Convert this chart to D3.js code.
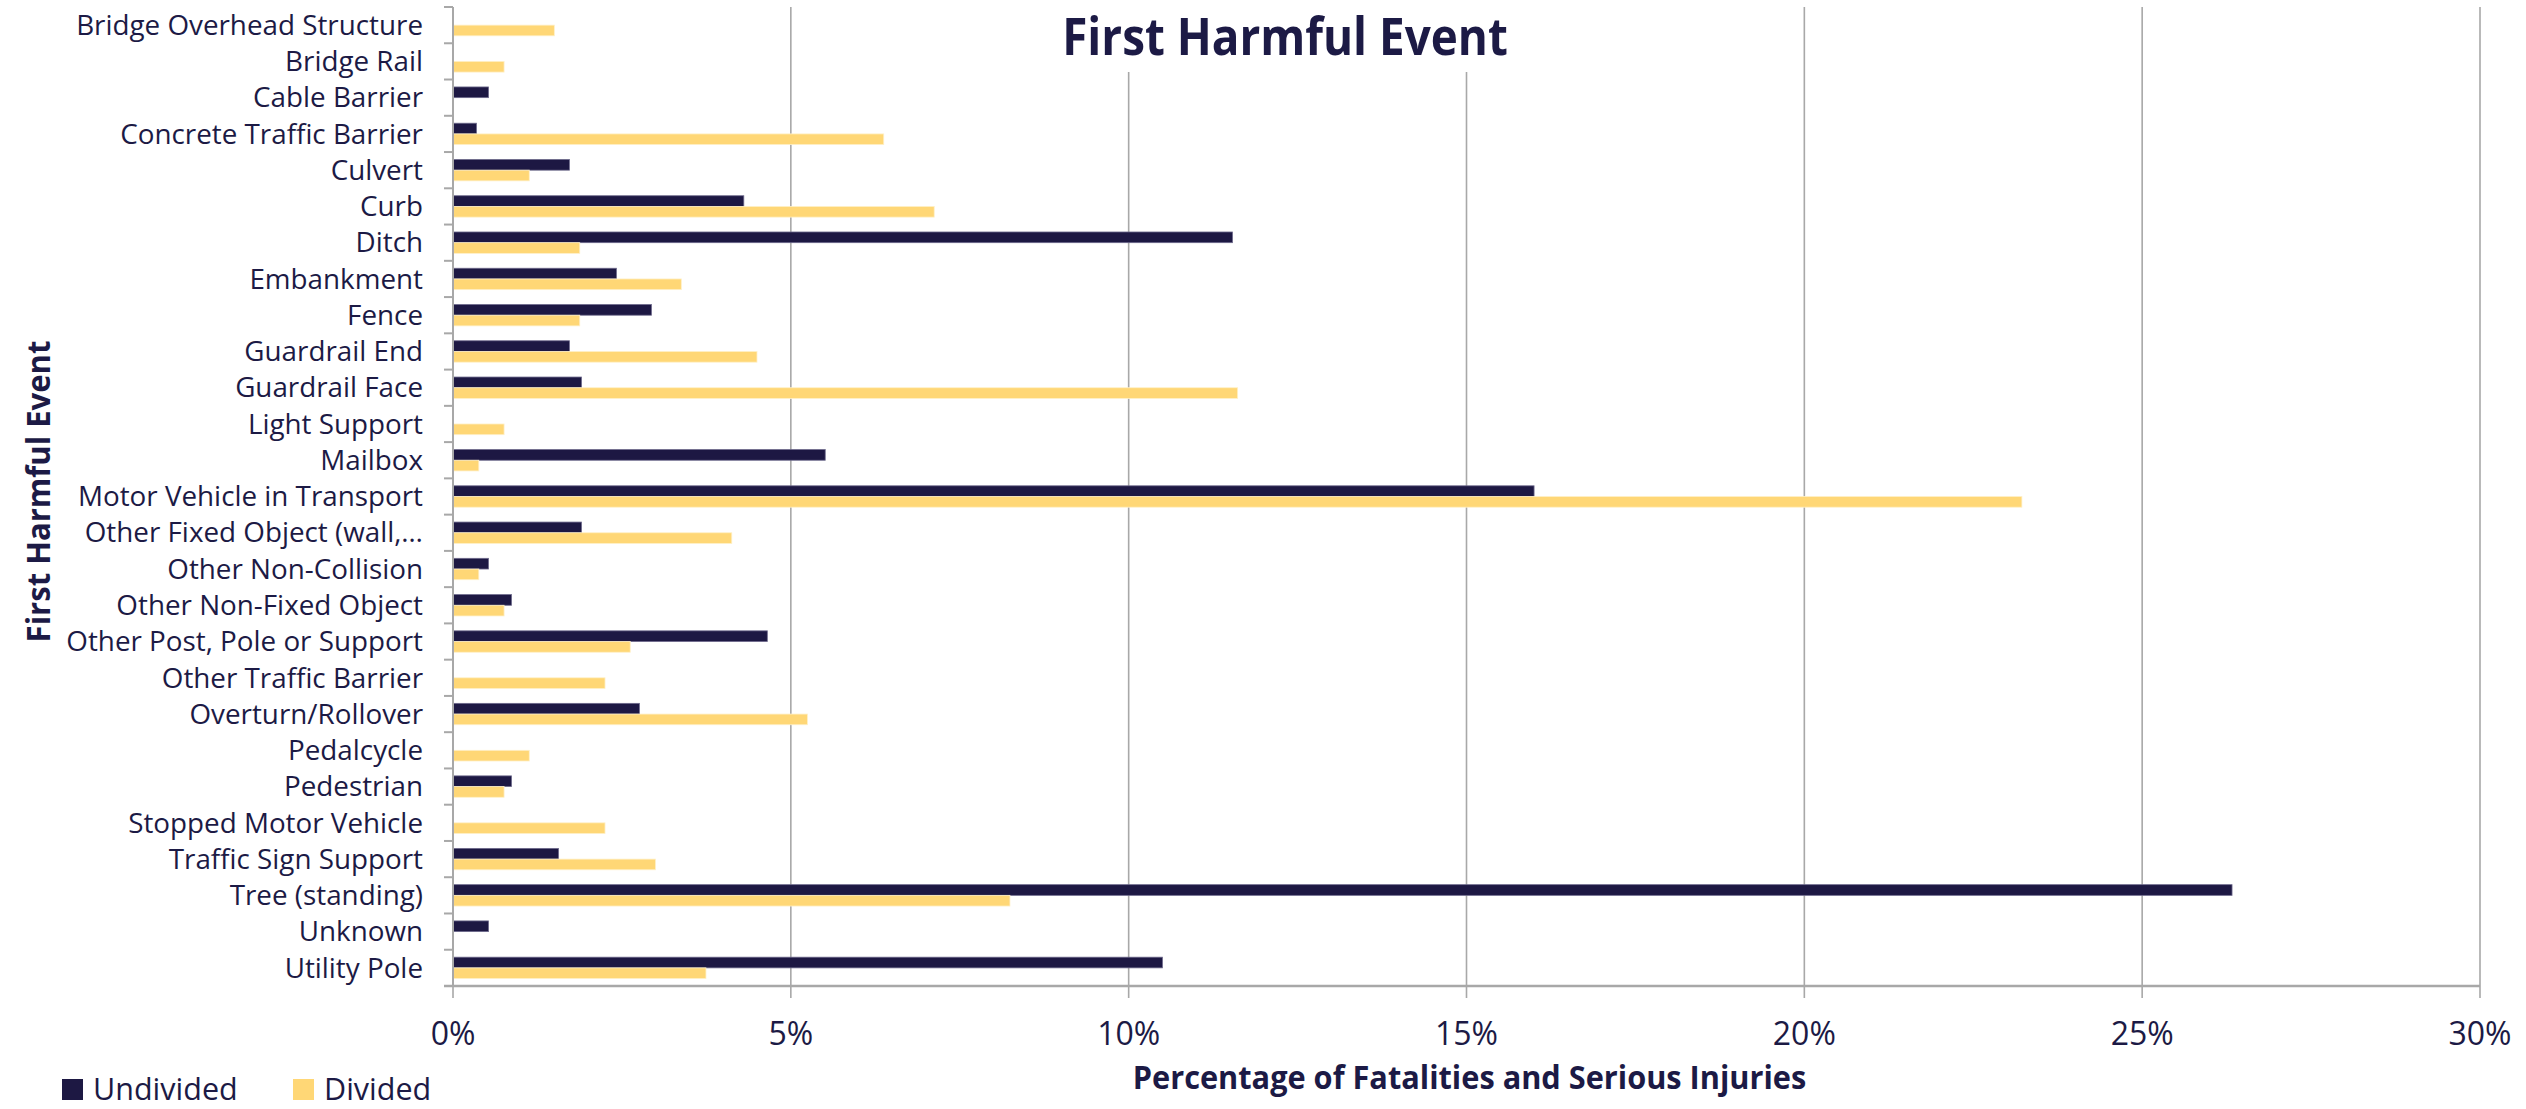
<!DOCTYPE html>
<html>
<head>
<meta charset="utf-8">
<script src="https://cdn.jsdelivr.net/npm/d3@7"></script>
<style>
  html, body { margin: 0; padding: 0; background: #ffffff; }
  svg { display: block; }
  text { font-family: "Open Sans", sans-serif; fill: #1c1a45; }
</style>
</head>
<body>
<svg id="chart" width="2526" height="1109"></svg>
<script>
// ---- Data ----
const categories = [
  "Bridge Overhead Structure", "Bridge Rail", "Cable Barrier", "Concrete Traffic Barrier",
  "Culvert", "Curb", "Ditch", "Embankment", "Fence", "Guardrail End", "Guardrail Face",
  "Light Support", "Mailbox", "Motor Vehicle in Transport", "Other Fixed Object (wall,\u2026",
  "Other Non-Collision", "Other Non-Fixed Object", "Other Post, Pole or Support",
  "Other Traffic Barrier", "Overturn/Rollover", "Pedalcycle", "Pedestrian",
  "Stopped Motor Vehicle", "Traffic Sign Support", "Tree (standing)", "Unknown", "Utility Pole"
];
const undivided = [
  0, 0, 0.526, 0.348, 1.723, 4.304, 11.537, 2.419, 2.937, 1.723, 1.902,
  0, 5.509, 16.00, 1.902, 0.526, 0.866, 4.652, 0, 2.759, 0, 0.866,
  0, 1.562, 26.33, 0.526, 10.50
];
const divided = [
  1.50, 0.756, 0, 6.375, 1.129, 7.122, 1.876, 3.379, 1.876, 4.499, 11.613,
  0.756, 0.382, 23.22, 4.126, 0.382, 0.756, 2.623, 2.250, 5.246, 1.129, 0.756,
  2.250, 2.997, 8.243, 0, 3.744
];
const seriesNames = ["Undivided", "Divided"];
const seriesColors = ["#1d1843", "#ffd776"];
const xTicks = [0, 5, 10, 15, 20, 25, 30];
const tickLabels = ["0%", "5%", "10%", "15%", "20%", "25%", "30%"];
const chartTitle = "First Harmful Event";
const xTitle = "Percentage of Fatalities and Serious Injuries";
const yTitle = "First Harmful Event";

// ---- Layout ----
const svg = d3.select("#chart");
const plot = { left: 453, right: 2480, top: 7, bottom: 986 };
const gridColor = "#a8a8a8";

const x = d3.scaleLinear().domain([0, 30]).range([plot.left, plot.right]);
const y = d3.scaleBand().domain(categories).range([plot.top, plot.bottom])
  .paddingInner(0.41).paddingOuter(0.205);
const ySub = d3.scaleBand().domain(seriesNames).range([0, y.bandwidth()]);

const rows = categories.map((c, i) => ({ cat: c, values: [undivided[i], divided[i]] }));

// gridlines (vertical), extending below axis as ticks
svg.append("g").selectAll("line").data(xTicks).join("line")
  .attr("x1", d => x(d)).attr("x2", d => x(d))
  .attr("y1", plot.top).attr("y2", plot.bottom + 12)
  .attr("stroke", gridColor).attr("stroke-width", 1.6);

// bars
const groups = svg.append("g").selectAll("g").data(rows).join("g")
  .attr("transform", d => `translate(0,${y(d.cat)})`);
groups.selectAll("rect").data(d => d.values.map((v, j) => ({ v, j }))).join("rect")
  .attr("x", x(0))
  .attr("y", d => ySub(seriesNames[d.j]))
  .attr("width", d => Math.max(0, x(d.v) - x(0)))
  .attr("height", ySub.bandwidth())
  .attr("fill", d => seriesColors[d.j])
  .attr("stroke", d => d.v > 0 ? (d.j === 0 ? "#6e6a8c" : "#fff0c8") : "none")
  .attr("stroke-width", 0.8);

// title with white background (hides gridlines beneath)
const titleG = svg.append("g").attr("transform", "translate(1285,55) scale(0.89,1)");
const titleBg = titleG.append("rect").attr("fill", "#ffffff");
const titleT = titleG.append("text").text(chartTitle)
  .attr("text-anchor", "middle").attr("font-weight", 700).attr("font-size", 51.5);
const tb = titleT.node().getBBox();
titleBg.attr("x", tb.x - 22).attr("width", tb.width + 44).attr("y", -55).attr("height", 72);

// y axis line + ticks at category boundaries
const yAxisG = svg.append("g");
yAxisG.append("line")
  .attr("x1", plot.left).attr("x2", plot.left)
  .attr("y1", plot.top).attr("y2", plot.bottom)
  .attr("stroke", gridColor).attr("stroke-width", 2);
const boundaries = categories.map(c => y(c) - y.step() * y.paddingInner() / 2).concat([plot.bottom]);
yAxisG.selectAll("line.tick").data(boundaries).join("line").attr("class", "tick")
  .attr("x1", plot.left - 9).attr("x2", plot.left)
  .attr("y1", d => d).attr("y2", d => d)
  .attr("stroke", gridColor).attr("stroke-width", 2);

// x axis line
svg.append("line")
  .attr("x1", plot.left - 9).attr("x2", plot.right)
  .attr("y1", plot.bottom).attr("y2", plot.bottom)
  .attr("stroke", gridColor).attr("stroke-width", 2.5);

// category labels
svg.append("g").selectAll("text").data(categories).join("text")
  .attr("x", 423)
  .attr("y", d => y(d) + y.bandwidth() / 2)
  .attr("dy", "0.35em")
  .attr("text-anchor", "end")
  .attr("font-size", 27.8)
  .text(d => d);

// x tick labels
svg.append("g").selectAll("text").data(xTicks).join("text")
  .attr("x", d => x(d)).attr("y", 1045)
  .attr("text-anchor", "middle").attr("font-size", 32)
  .text((d, i) => tickLabels[i]);

// x axis title
svg.append("g").attr("transform", `translate(${(plot.left + plot.right) / 2 + 3},1089) scale(0.96,1)`)
  .append("text").text(xTitle)
  .attr("text-anchor", "middle").attr("font-weight", 700).attr("font-size", 32);

// y axis title
svg.append("g").attr("transform", "translate(50,491.5) rotate(-90) scale(0.97,1)")
  .append("text").text(yTitle)
  .attr("text-anchor", "middle").attr("font-weight", 700).attr("font-size", 32);

// legend
const legend = svg.append("g");
const legendX = [62, 293];
seriesNames.forEach((s, i) => {
  legend.append("rect").attr("x", legendX[i]).attr("y", 1079).attr("width", 21).attr("height", 21)
    .attr("fill", seriesColors[i]);
  legend.append("text").attr("x", legendX[i] + 31).attr("y", 1100)
    .attr("font-size", 30.5).text(s);
});
</script>
</body>
</html>
